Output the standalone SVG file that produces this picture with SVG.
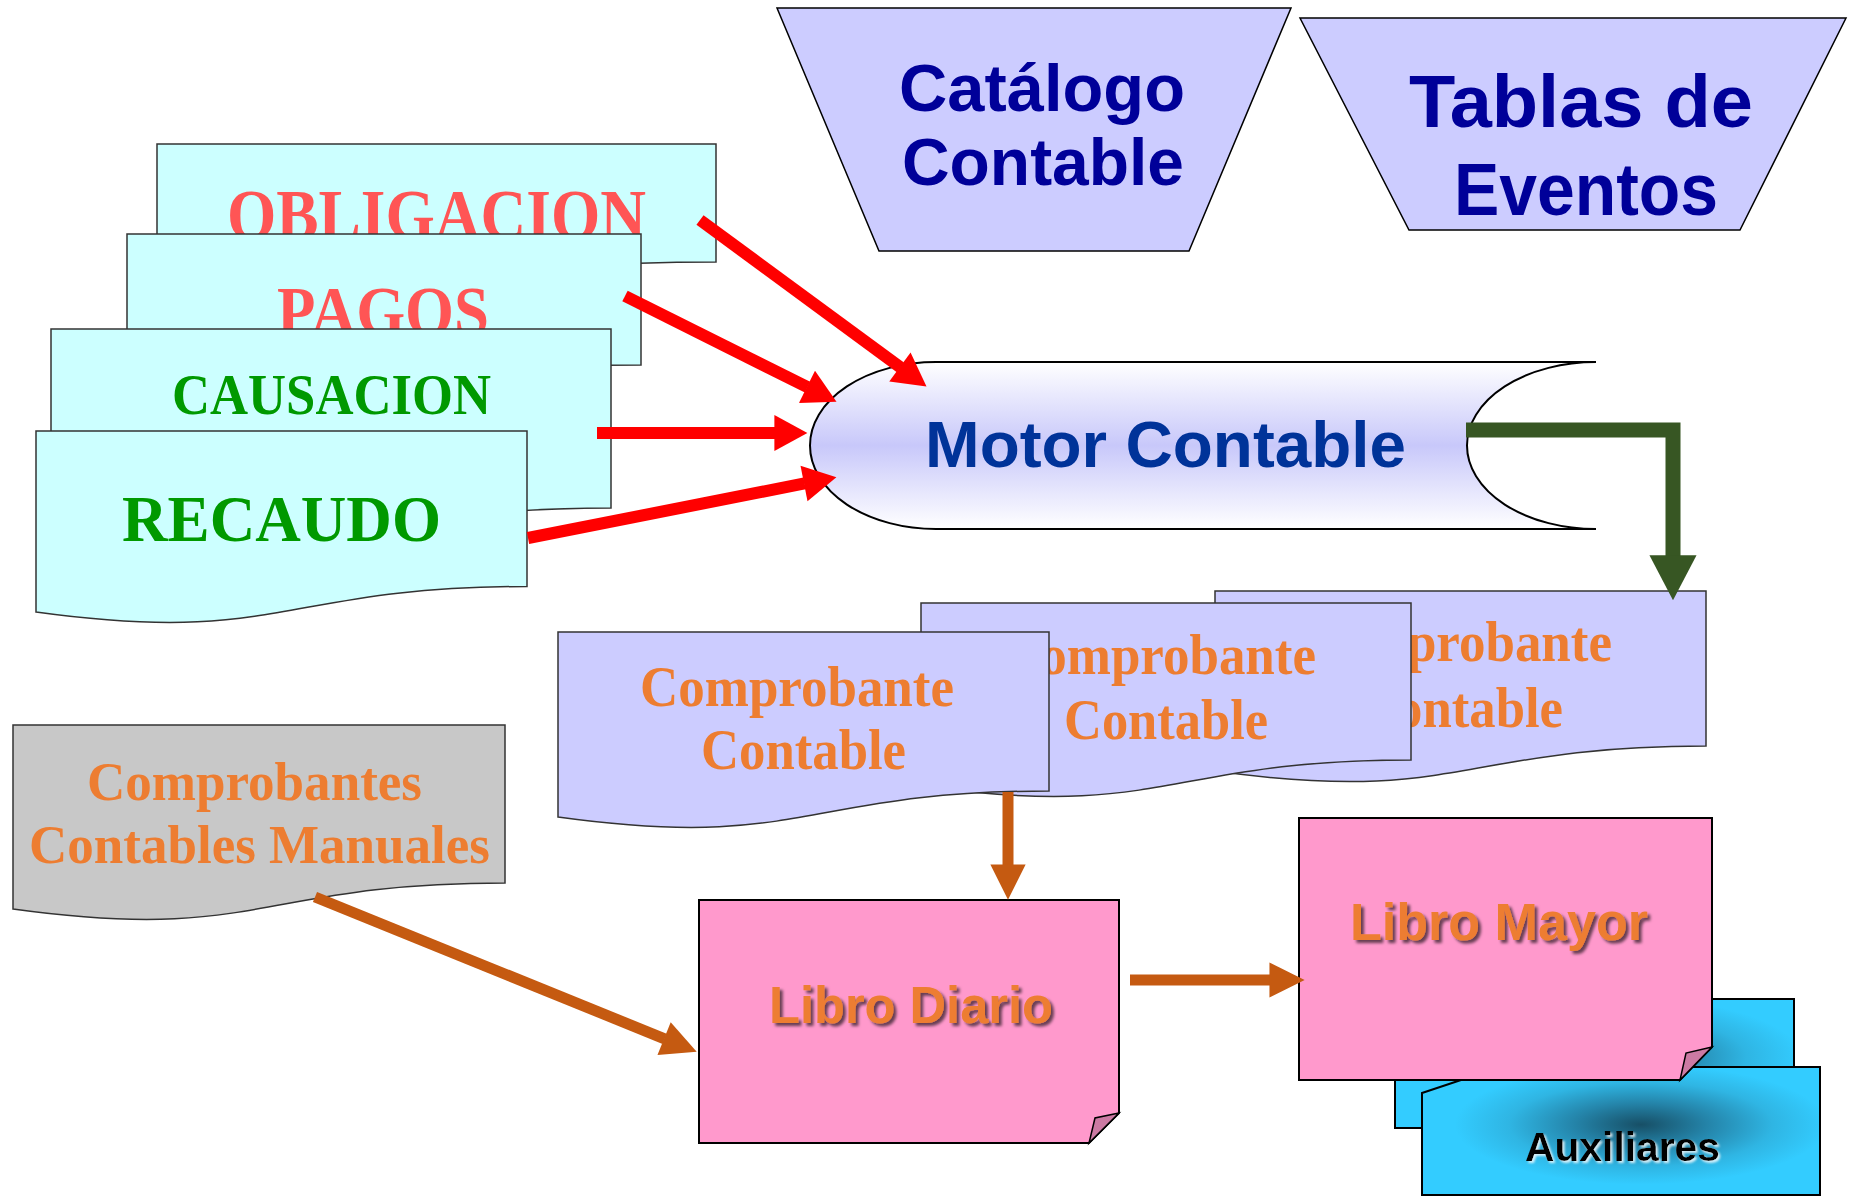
<svg xmlns="http://www.w3.org/2000/svg" width="1849" height="1197" viewBox="0 0 1849 1197">
<defs>
<style>
.doc{stroke:#333;stroke-width:1.5}
.cy{fill:#CCFFFF}
.lav{fill:#CCCCFF}
.ser{font-family:"Liberation Serif","Times New Roman",serif;font-weight:bold}
.san{font-family:"Liberation Sans",Arial,sans-serif;font-weight:bold}
.red{fill:#FF5555}
.grn{fill:#009900}
.org{fill:#ED7D31}
.navy{fill:#000099}
.trap{fill:#CCCCFF;stroke:#000;stroke-width:1.5}
.note{fill:#FF99CC;stroke:#000;stroke-width:2}
.fold{fill:#CC7AA3;stroke:#000;stroke-width:1.5}
.aux{stroke:#000;stroke-width:2}
.cr{fill:none;stroke:#FF0000;stroke-width:12}
.cg{fill:none;stroke:#375623;stroke-width:15;stroke-linejoin:miter}
.co{fill:none;stroke:#C55A11;stroke-width:11}
</style>
<linearGradient id="gMotor" x1="0" y1="0" x2="0" y2="1">
<stop offset="0" stop-color="#FFFFFF"/>
<stop offset="0.5" stop-color="#C8C8FA"/>
<stop offset="1" stop-color="#FFFFFF"/>
</linearGradient>
<radialGradient id="gCyan" cx="0.55" cy="0.45" r="0.55">
<stop offset="0" stop-color="#174F66"/>
<stop offset="0.3" stop-color="#2483A8"/>
<stop offset="0.6" stop-color="#2FB5E3"/>
<stop offset="0.85" stop-color="#33CCFF"/>
</radialGradient>
<filter id="shDark" x="-10%" y="-30%" width="130%" height="170%">
<feDropShadow dx="3" dy="3" stdDeviation="1.5" flood-color="#000" flood-opacity="0.6"/>
</filter>
<filter id="shLight" x="-10%" y="-30%" width="130%" height="170%">
<feDropShadow dx="2" dy="2" stdDeviation="1" flood-color="#FFFFFF" flood-opacity="0.8"/>
</filter>
<marker id="mRed" viewBox="0 -1.5 3 3" markerWidth="3" markerHeight="3" refX="0.05" refY="0" orient="auto" markerUnits="strokeWidth" overflow="visible">
<path d="M0,-1.5 L2.75,0 L0,1.5 Z" fill="#FF0000"/>
</marker>
<marker id="mGrn" viewBox="0 -1.6 3 3.2" markerWidth="3" markerHeight="3.2" refX="0.05" refY="0" orient="auto" markerUnits="strokeWidth" overflow="visible">
<path d="M0,-1.57 L3,0 L0,1.57 Z" fill="#375623"/>
</marker>
<marker id="mOrg" viewBox="0 -1.6 3.2 3.2" markerWidth="3.2" markerHeight="3.2" refX="0.05" refY="0" orient="auto" markerUnits="strokeWidth" overflow="visible">
<path d="M0,-1.6 L3.2,0 L0,1.6 Z" fill="#C55A11"/>
</marker>
</defs>
<rect width="1849" height="1197" fill="#FFFFFF"/>

<g id="obligacion">
<path class="doc cy" d="M157,144 H716 V262 C436.5,262 436.5,307 157,281 Z"/>
<text class="ser red" x="227" y="239" font-size="72" textLength="419" lengthAdjust="spacingAndGlyphs">OBLIGACION</text>
</g>
<g id="pagos">
<path class="doc cy" d="M127,234 H641 V365 C384,365 384,414.5 127,386 Z"/>
<text class="ser red" x="277" y="335" font-size="70" textLength="212" lengthAdjust="spacingAndGlyphs">PAGOS</text>
</g>
<g id="causacion">
<path class="doc cy" d="M51,329 H611 V508 C331,508 331,576 51,537 Z"/>
<text class="ser grn" x="172" y="414" font-size="56" textLength="319" lengthAdjust="spacingAndGlyphs">CAUSACION</text>
</g>
<g id="recaudo">
<path class="doc cy" d="M36,431 H527 V586.5 C281.5,586.5 281.5,646 36,612 Z"/>
<text class="ser grn" x="122" y="541" font-size="66" textLength="319" lengthAdjust="spacingAndGlyphs">RECAUDO</text>
</g>

<g id="catalogo">
<polygon class="trap" points="777,8 1291,8 1189,251 879,251"/>
<text class="san navy" x="899" y="111" font-size="66" textLength="286" lengthAdjust="spacingAndGlyphs">Catálogo</text>
<text class="san navy" x="902" y="185" font-size="66" textLength="282" lengthAdjust="spacingAndGlyphs">Contable</text>
</g>
<g id="tablas">
<polygon class="trap" points="1300,18 1846,18 1740,230 1409,230"/>
<text class="san navy" x="1409" y="127" font-size="75" textLength="344" lengthAdjust="spacingAndGlyphs">Tablas de</text>
<text class="san navy" x="1454" y="215" font-size="75" textLength="264" lengthAdjust="spacingAndGlyphs">Eventos</text>
</g>

<g id="motor">
<path d="M936,362 L1596,362 A129,83.5 0 0 0 1596,529 L936,529 A126,83.5 0 0 1 936,362 Z" fill="url(#gMotor)" stroke="#000" stroke-width="2"/>
<text class="san" fill="#003399" x="925" y="467" font-size="65" textLength="481" lengthAdjust="spacingAndGlyphs">Motor Contable</text>
</g>

<g id="comprobante3">
<path class="doc lav" d="M1215,591 H1706 V746 C1460.5,746 1460.5,805 1215,771 Z"/>
<text class="ser org" x="1298" y="661" font-size="56" textLength="314" lengthAdjust="spacingAndGlyphs">Comprobante</text>
<text class="ser org" x="1358" y="727" font-size="56" textLength="205" lengthAdjust="spacingAndGlyphs">Contable</text>
</g>
<g id="comprobante2">
<path class="doc lav" d="M921,603 H1411 V760 C1166,760 1166,820 921,786 Z"/>
<text class="ser org" x="1002" y="674" font-size="56" textLength="314" lengthAdjust="spacingAndGlyphs">Comprobante</text>
<text class="ser org" x="1064" y="739" font-size="56" textLength="204" lengthAdjust="spacingAndGlyphs">Contable</text>
</g>
<g id="comprobante1">
<path class="doc lav" d="M558,632 H1049 V791 C803.5,791 803.5,851 558,817 Z"/>
<text class="ser org" x="640" y="706" font-size="56" textLength="314" lengthAdjust="spacingAndGlyphs">Comprobante</text>
<text class="ser org" x="701" y="769" font-size="56" textLength="205" lengthAdjust="spacingAndGlyphs">Contable</text>
</g>

<g id="manuales">
<path class="doc" fill="#C8C8C8" d="M13,725 H505 V883 C259,883 259,943 13,909 Z"/>
<text class="ser org" x="87" y="800" font-size="55" textLength="335" lengthAdjust="spacingAndGlyphs">Comprobantes</text>
<text class="ser org" x="29" y="863" font-size="55" textLength="461" lengthAdjust="spacingAndGlyphs">Contables Manuales</text>
</g>

<g id="libro-diario">
<polygon class="note" points="699,900 1119,900 1119,1113 1089,1143 699,1143"/>
<polygon class="fold" points="1119,1113 1095,1118 1089,1143"/>
<text class="san org" filter="url(#shDark)" x="769" y="1023" font-size="52" textLength="284" lengthAdjust="spacingAndGlyphs">Libro Diario</text>
</g>

<g id="auxiliares">
<rect class="aux" x="1395" y="999" width="399" height="129" fill="url(#gCyan)"/>
<polygon class="aux" points="1422,1093 1500,1067 1820,1067 1820,1195 1422,1195" fill="url(#gCyan)"/>
<text class="san" fill="#000" filter="url(#shLight)" x="1525" y="1161" font-size="40" textLength="195" lengthAdjust="spacingAndGlyphs">Auxiliares</text>
</g>

<g id="libro-mayor">
<polygon class="note" points="1299,818 1712,818 1712,1047 1680,1080 1299,1080"/>
<polygon class="fold" points="1712,1047 1686,1053 1680,1080"/>
<text class="san org" filter="url(#shDark)" x="1350" y="940" font-size="51" textLength="298" lengthAdjust="spacingAndGlyphs">Libro Mayor</text>
</g>

<g id="connectors">
<line class="cr" x1="700" y1="220" x2="900.4" y2="367.4" marker-end="url(#mRed)"/>
<line class="cr" x1="625" y1="296" x2="807.5" y2="387.2" marker-end="url(#mRed)"/>
<line class="cr" x1="597" y1="433" x2="775" y2="433" marker-end="url(#mRed)"/>
<line class="cr" x1="528" y1="538" x2="804.6" y2="483.4" marker-end="url(#mRed)"/>
<path class="cg" d="M1466,430 H1673 V556" marker-end="url(#mGrn)"/>
<line class="co" x1="1008" y1="792" x2="1008" y2="865" marker-end="url(#mOrg)"/>
<line class="co" x1="315" y1="897" x2="664.6" y2="1038.8" marker-end="url(#mOrg)"/>
<line class="co" x1="1130" y1="980" x2="1270" y2="980" marker-end="url(#mOrg)"/>
</g>
</svg>
